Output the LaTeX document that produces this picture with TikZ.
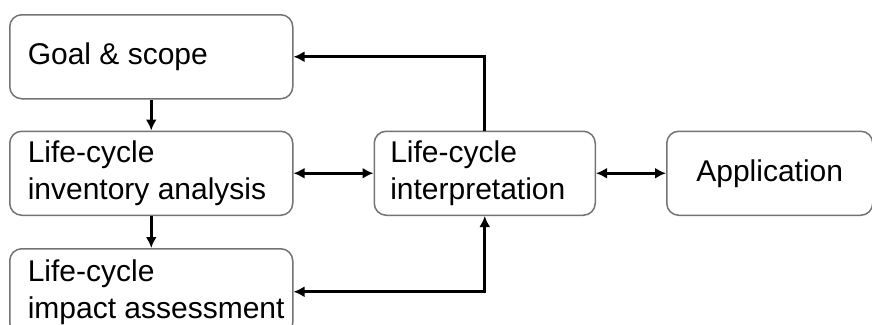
\documentclass[tikz,border=0pt]{standalone}
\usepackage{fontspec}
\setmainfont{Liberation Sans}
\usetikzlibrary{positioning,arrows.meta}

\begin{document}
\begin{tikzpicture}[x=1pt,y=1pt,line width=3.4pt,node distance=31pt and 80pt,
        box node/.style={draw=black!55,line width=1.5pt,rounded corners=12pt,
            font=\fontsize{30}{37}\selectfont,inner xsep=18pt,inner ysep=0pt,
            text width=247pt,minimum height=84pt,align=flush left},
        one way/.style={-{Latex[length=11pt,width=11pt]}},
        two way/.style={{Latex[length=11pt,width=11pt]}-{Latex[length=11pt,width=11pt]}},
        elbow/.style={to path={|- (\tikztotarget)}}]

        \useasboundingbox (0,0) rectangle (872,-324);

        \node[box node,anchor=north west] (goal) at (9,-14) {Goal \& scope};
        \node[box node] (inv) [below=of goal] {Life-cycle\\inventory analysis};
        \node[box node,minimum height=86pt] (imp) [below=32pt of inv] {Life-cycle\\\mbox{impact assessment}};
        \node[box node,inner xsep=16pt,text width=189pt] (interp) [right=of inv] {Life-cycle\\interpretation};
        \node[box node,inner xsep=0pt,text width=206pt,align=center] (app) [right=70pt of interp] {Application};

        \path
            (goal) edge[one way] (inv)
            (inv) edge[one way] (imp)
            (inv) edge[two way] (interp)
            (interp) edge[two way] (app)
            (interp) edge[one way,elbow] (goal)
            (interp) edge[two way,elbow] (imp);

\end{tikzpicture}
\end{document}
